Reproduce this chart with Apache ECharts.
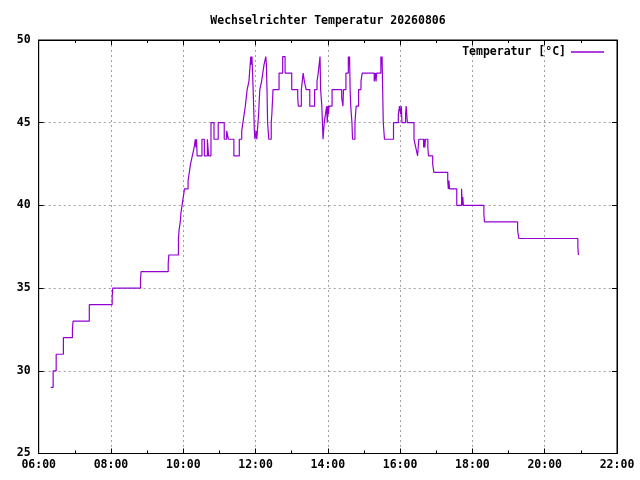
<!DOCTYPE html>
<html>
<head>
<meta charset="utf-8">
<script src="https://cdn.jsdelivr.net/npm/echarts@6/dist/echarts.min.js"></script>
<style>html,body{margin:0;padding:0;background:#fff}#c{width:640px;height:480px}</style>
</head>
<body>
<div id="c"></div>
<script>
const titleText = 'Wechselrichter Temperatur 20260806';
const seriesName = 'Temperatur [°C]';
const xTicks = [6, 8, 10, 12, 14, 16, 18, 20, 22];
const yTicks = [25, 30, 35, 40, 45, 50];
const times = [
 "06:20","06:24","06:29","06:41","06:56","06:57","07:24","08:02","08:03","08:49","08:50",
 "09:35","09:36","09:52","09:53","09:55","09:56","09:58","10:00","10:02","10:08","10:10",
 "10:12","10:15","10:18","10:20","10:21","10:22","10:23","10:31","10:35","10:40","10:41",
 "10:42","10:46","10:51","10:58","11:08","11:12","11:15","11:24","11:33","11:37","11:39",
 "11:41","11:43","11:46","11:49","11:50","11:52","11:53","11:54","11:55","11:56","11:58",
 "11:59","12:01","12:02","12:03","12:05","12:07","12:10","12:12","12:14","12:17","12:18",
 "12:19","12:20","12:22","12:26","12:27","12:29","12:39","12:45","12:49","13:00","13:10",
 "13:11","13:16","13:19","13:21","13:24","13:30","13:38","13:42","13:44","13:47","13:48",
 "13:50","13:52","13:53","13:54","13:56","13:58","13:59","14:00","14:01","14:02","14:07",
 "14:23","14:25","14:26","14:30","14:34","14:35","14:36","14:37","14:38","14:40","14:41",
 "14:45","14:47","14:51","14:55","14:57","15:17","15:19","15:20","15:21","15:28","15:29",
 "15:30","15:31","15:32","15:34","15:49","15:57","15:59","16:01","16:02","16:03","16:09",
 "16:10","16:12","16:23","16:26","16:29","16:31","16:39","16:40","16:41","16:42","16:46",
 "16:47","16:54","16:56","17:19","17:20","17:21","17:22","17:34","17:42","17:43","17:44",
 "17:45","18:19","18:20","19:15","19:17","20:55","20:56"
];
const temps = [
 29,30,31,32,32.5,33,34,34.5,35,35.5,36,
 36.5,37,38,38.5,39,39.5,40,40.5,41,41.5,42,
 42.5,43,43.5,44,43.5,44,43,44,43,44,43.5,
 43,45,44,45,44,44.5,44,43,44,44.5,45,
 45.5,46,47,47.5,48,49,48.5,49,48,47,44.5,
 44,44.5,44,44.5,45.5,47,47.5,48,48.5,49,48.5,
 47,45,44,45,45.5,47,48,49,48,47,46.5,
 46,47,48,47.5,47,46,47,47.5,48,49,47,
 46,44,44.5,45,45.5,46,45,46,45.5,46,47,
 46.5,46,47,48,49,48.5,49,47,46,45,44,
 45,46,47,47.5,48,47.5,48,47.5,48,49,48.5,
 49,47,45,44,45,45.5,46,45.5,46,45,45.5,
 46,45,44,43.5,43,44,43.5,44,43.5,44,43.5,
 43,42.5,42,41.5,41,41.5,41,40,41,40,40.5,
 40,39.5,39,38.5,38,37.5,37
];
function toHours(s){ const p = s.split(':'); return +p[0] + (+p[1])/60; }
const data = times.map((t,i)=>[toHours(t), temps[i]]);

const FONT = 'DejaVu Sans Mono';
const txt = {fontFamily: FONT, fontWeight: 'bold', fontSize: 11.5, color: '#000'};
const fmtX = v => (v < 10 ? '0' : '') + v + ':00';
const grid = {left: 38.7, right: 23, top: 40, bottom: 26.5, show: true, borderColor: '#000', borderWidth: 1};
const gridLine = {show: true, lineStyle: {color: '#a0a0a0', type: [2, 3], width: 1}};

const chart = echarts.init(document.getElementById('c'), null, {renderer: 'canvas'});
chart.setOption({
  animation: false,
  backgroundColor: '#fff',
  title: {text: titleText, left: 323, top: 10, textAlign: 'center',
          textStyle: Object.assign({}, txt)},
  legend: {right: 31, top: 41, align: 'right', icon: 'rect', itemWidth: 33, itemHeight: 1.5,
           textStyle: Object.assign({}, txt), data: [seriesName]},
  grid: grid,
  xAxis: [
    {type: 'value', min: xTicks[0], max: xTicks[xTicks.length-1], interval: 2,
     axisLine: {show: true, lineStyle: {color: '#000', width: 1}},
     axisTick: {show: true, inside: true, length: 5, lineStyle: {color: '#000'}},
     minorTick: {show: true, splitNumber: 2, length: 3, lineStyle: {color: '#000'}},
     axisLabel: Object.assign({formatter: fmtX, margin: 6}, txt),
     splitLine: gridLine},
    {type: 'value', position: 'top', min: xTicks[0], max: xTicks[xTicks.length-1], interval: 2,
     axisLine: {show: true, lineStyle: {color: '#000', width: 1}},
     axisTick: {show: true, inside: true, length: 5, lineStyle: {color: '#000'}},
     minorTick: {show: true, splitNumber: 2, length: 3, lineStyle: {color: '#000'}},
     axisLabel: {show: false}, splitLine: {show: false}}
  ],
  yAxis: [
    {type: 'value', min: yTicks[0], max: yTicks[yTicks.length-1], interval: 5,
     axisLine: {show: true, lineStyle: {color: '#000', width: 1}},
     axisTick: {show: true, inside: true, length: 5, lineStyle: {color: '#000'}},
     axisLabel: Object.assign({margin: 8}, txt),
     splitLine: gridLine},
    {type: 'value', position: 'right', min: yTicks[0], max: yTicks[yTicks.length-1], interval: 5,
     axisLine: {show: true, lineStyle: {color: '#000', width: 1}},
     axisTick: {show: true, inside: true, length: 5, lineStyle: {color: '#000'}},
     axisLabel: {show: false}, splitLine: {show: false}}
  ],
  series: [{
    name: seriesName, type: 'line', step: 'end', data: data,
    xAxisIndex: 0, yAxisIndex: 0,
    symbol: 'none', showSymbol: false,
    lineStyle: {color: '#9400d3', width: 1.2},
    itemStyle: {color: '#9400d3'}
  }]
});
</script>
</body>
</html>
